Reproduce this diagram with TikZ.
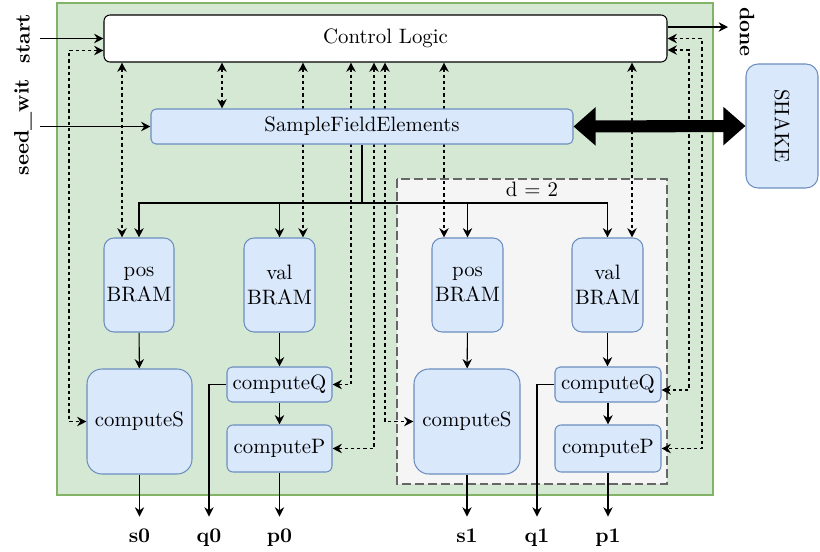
\documentclass[tikz,border=0pt]{standalone}
\usetikzlibrary{arrows.meta,calc}
\definecolor{coreFill}{HTML}{D5E8D4}
\definecolor{coreLine}{HTML}{82B366}
\definecolor{blkFill}{HTML}{DAE8FC}
\definecolor{blkLine}{HTML}{6C8EBF}
\definecolor{laneFill}{HTML}{F5F5F5}
\definecolor{laneLine}{HTML}{666666}
\newcommand\pxu{0.48pt}
\pgfdeclarelayer{panels}
\pgfdeclarelayer{wires}
\pgfsetlayers{panels,wires,main}
\begin{document}
\begin{tikzpicture}[x=0.48pt,y=-0.48pt,
  bx/.style n args={3}{minimum width=#1*\pxu, minimum height=#2*\pxu, rounded corners=#3*\pxu},
  blk/.style={draw=blkLine, fill=blkFill, line width=0.5pt, align=center, inner sep=0pt},
  flow/.style={-{Stealth[length=4.5pt,width=4.5pt,inset=1.5pt]}, line width=0.5pt},
  ctl/.style={{Stealth[length=4.5pt,width=4.5pt,inset=1.5pt]}-{Stealth[length=4.5pt,width=4.5pt,inset=1.5pt]},
              dash pattern=on 1.5pt off 1.5pt, line width=0.5pt},
  port/.style={font=\bfseries, inner sep=0pt, text height=6.5pt, text depth=0pt, minimum height=38*\pxu},
  sideport/.style={font=\bfseries, inner sep=0pt}]

\useasboundingbox (0,0) rectangle (820,552);

% accelerator core and the second lane
\begin{pgfonlayer}{panels}
\draw[fill=coreFill, draw=coreLine, line width=0.5pt] (57,3) rectangle (713,495);
\draw[fill=laneFill, draw=laneLine, line width=0.7pt, dash pattern=on 4.3pt off 1.9pt] (397,179) rectangle (667,484);
\end{pgfonlayer}
\node (lanelabel) at (532,189) {d = 2};

% blocks
\node[draw=black, fill=white, line width=0.5pt, bx={563}{47}{6}] (ctrl) at (385.5,38.5) {Control Logic};
\node[blk, bx={422}{35}{5}] (sfe) at (362,126.5) {SampleFieldElements};
\node[blk, bx={72}{124}{12}] (shake) at (782,126) {};
\node[rotate=-90] (shaketext) at (shake.center) {SHAKE};

\node[blk, bx={70}{94}{10}] (pos1) at (139,285) {pos\\BRAM};
\node[blk, bx={71}{94}{10}] (val1) at (279.5,285) {val\\BRAM};
\node[blk, bx={71}{94}{10}] (pos2) at (467.5,285) {pos\\BRAM};
\node[blk, bx={71}{94}{10}] (val2) at (607.5,285) {val\\BRAM};

\node[blk, bx={105}{105}{15}] (cs1) at (139.5,421.5) {computeS};
\node[blk, bx={105}{35}{5}] (cq1) at (279.5,384.5) {computeQ};
\node[blk, bx={105}{47}{6}] (cp1) at (279.5,448.5) {computeP};
\node[blk, bx={106}{105}{15}] (cs2) at (467,421.5) {computeS};
\node[blk, bx={106}{35}{5}] (cq2) at (608,384.5) {computeQ};
\node[blk, bx={106}{47}{6}] (cp2) at (608,448.5) {computeP};

% external ports
\node[sideport, rotate=90] (start) at (23,38.5) {start};
\node[sideport, rotate=90] (seed) at (23,127) {seed\_wit};
\node[sideport, rotate=-90] (done) at (747,32) {done};
\coordinate (startIn) at (40,38.5);
\coordinate (seedIn) at (40,126.5);
\coordinate (doneOut) at (728,27);

\node[port] (s0) at (139.5,536) {s0};
\node[port] (q0) at (209,536) {q0};
\node[port] (p0) at (279.5,536) {p0};
\node[port] (s1) at (467,536) {s1};
\node[port] (q1) at (537,536) {q1};
\node[port] (p1) at (608,536) {p1};

\begin{pgfonlayer}{wires}
% data path
\draw[flow] (startIn) -- (ctrl.west);
\draw[flow] (seedIn) -- (sfe.west);
\draw[flow] ($(ctrl.east)+(0,-11.5)$) -- (doneOut);

\coordinate (bus) at (362,203);
\draw[line width=0.5pt] (sfe.south) -- (bus);
\draw[flow] (bus) -| (pos1.north);
\draw[flow] (bus) -| (val1.north);
\draw[flow] (bus) -| (pos2.north);
\draw[flow] (bus) -| (val2.north);

\draw[flow] (pos1) -- (cs1);
\draw[flow] (val1) -- (cq1);
\draw[flow] (cq1) -- (cp1);
\draw[flow] (pos2) -- (cs2);
\draw[flow] (val2.south) -- (cq2.north -| val2.south);
\draw[flow] (cq2) -- (cp2);

\draw[flow] (cs1.south) -- (s0.north);
\draw[flow] (cq1.west) -| (q0.north);
\draw[flow] (cp1.south) -- (p0.north);
\draw[flow] (cs2.south) -- (s1.north);
\draw[flow] (cq2.west) -| (q1.north);
\draw[flow] (cp2.south) -- (p1.north);

% control signals
\coordinate (c1) at (122,0);
\coordinate (c2) at (222,0);
\coordinate (c3) at (303,0);
\coordinate (c4) at (351,0);
\coordinate (c5) at (374,0);
\coordinate (c6) at (385,0);
\coordinate (c7) at (444,0);
\coordinate (c8) at (632,0);
\coordinate (l1) at (69,0);
\coordinate (r1) at (689,0);
\coordinate (r2) at (702,0);

\draw[ctl] (ctrl.south -| c1) -- (pos1.north -| c1);
\draw[ctl] (ctrl.south -| c2) -- (sfe.north -| c2);
\draw[ctl] (ctrl.south -| c3) -- (val1.north -| c3);
\draw[ctl] (ctrl.south -| c4) |- (cq1.east);
\draw[ctl] (ctrl.south -| c5) |- (cp1.east);
\draw[ctl] (ctrl.south -| c6) |- (cs2.west);
\draw[ctl] (ctrl.south -| c7) -- (pos2.north -| c7);
\draw[ctl] (ctrl.south -| c8) -- (val2.north -| c8);

\coordinate (ctlS) at ($(ctrl.west)+(0,12)$);
\draw[ctl] (ctlS) -| (l1 |- cs1.west) -- (cs1.west);
\coordinate (ctlQ) at ($(ctrl.east)+(0,11.5)$);
\coordinate (q2in) at ($(cq2.east)+(0,5.5)$);
\draw[ctl] (ctlQ) -| (r1 |- q2in) -- (q2in);
\draw[ctl] (ctrl.east) -| (r2 |- cp2.east) -- (cp2.east);
\end{pgfonlayer}

% link to the hash core, drawn over the core outline
\draw[line width=5.8pt, {Triangle[length=10.6pt,width=17.8pt]}-{Triangle[length=10.6pt,width=17.8pt]}] (sfe.east) -- (shake.west);

\end{tikzpicture}
\end{document}
